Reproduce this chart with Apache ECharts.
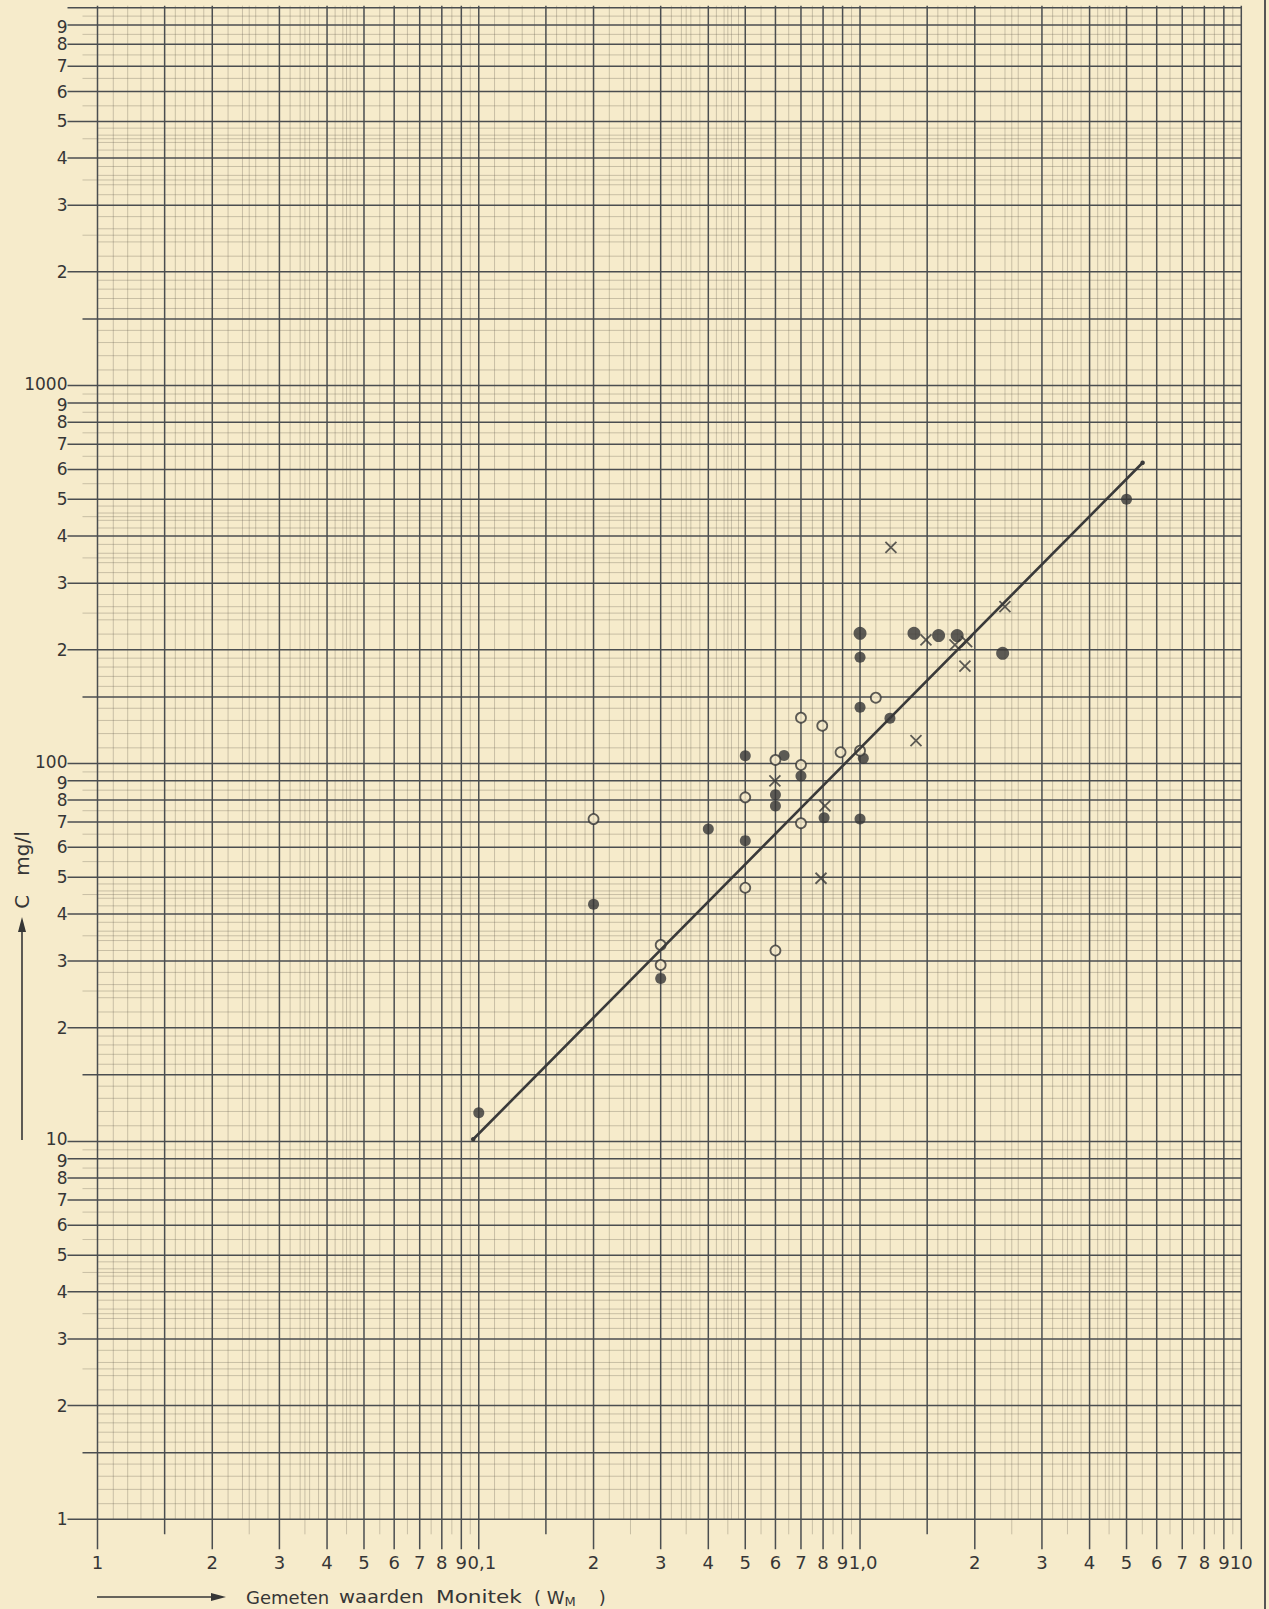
<!DOCTYPE html>
<html>
<head>
<meta charset="utf-8">
<script src="https://cdn.jsdelivr.net/npm/echarts@6/dist/echarts.min.js"></script>
<style>
  html, body { margin: 0; padding: 0; background: #F6EBCB; }
  #chart { width: 1269px; height: 1609px; }
</style>
</head>
<body>
<div id="chart"></div>
<script>
// ---------- axis ranges ----------
const X_MIN = 0.01, X_MAX = 10;
const Y_MIN = 1, Y_MAX = 10000;

// ---------- log-paper grid definition (per decade mantissas) ----------
const xDecades = [0.01, 0.1, 1];
const yDecades = [1, 10, 100, 1000];
const majorMantissas = [1, 2, 3, 4, 5, 6, 7, 8, 9];
const halfMantissas = [1.5];
const halfFaintMantissas = [2.5, 3.5, 4.5, 5.5, 6.5, 7.5, 8.5, 9.5];
const fineMantissas = [1.1, 1.2, 1.3, 1.4, 1.6, 1.7, 1.8, 1.9, 2.2, 2.4, 2.6, 2.8,
                       3.2, 3.4, 3.6, 3.8, 4.2, 4.4, 4.6, 4.8];

// ---------- tick labels ----------
const xTickValues = [0.01, 0.02, 0.03, 0.04, 0.05, 0.06, 0.07, 0.08, 0.09,
                     0.1, 0.2, 0.3, 0.4, 0.5, 0.6, 0.7, 0.8, 0.9,
                     1, 2, 3, 4, 5, 6, 7, 8, 9, 10];
const xTickLabels = ['1', '2', '3', '4', '5', '6', '7', '8', '9',
                     '0,1', '2', '3', '4', '5', '6', '7', '8', '9',
                     '1,0', '2', '3', '4', '5', '6', '7', '8', '9', '10'];
const yTickValues = [1, 2, 3, 4, 5, 6, 7, 8, 9,
                     10, 20, 30, 40, 50, 60, 70, 80, 90,
                     100, 200, 300, 400, 500, 600, 700, 800, 900,
                     1000, 2000, 3000, 4000, 5000, 6000, 7000, 8000, 9000];
const yTickLabels = ['1', '2', '3', '4', '5', '6', '7', '8', '9',
                     '10', '2', '3', '4', '5', '6', '7', '8', '9',
                     '100', '2', '3', '4', '5', '6', '7', '8', '9',
                     '1000', '2', '3', '4', '5', '6', '7', '8', '9'];

// ---------- data: [W_M, C mg/l] ----------
const filledPoints = [
  [0.1, 11.9], [0.2, 42.4], [0.3, 27.0], [0.4, 67.1], [0.5, 104.9], [0.5, 62.5],
  [0.6, 82.7], [0.6, 77.2], [0.632, 105], [0.7, 92.7], [0.805, 71.9],
  [1.0, 191], [1.0, 140.8], [1.0, 71.3], [1.02, 103.2], [1.198, 131.7], [5.0, 500]
];
const filledPointsLarge = [
  [1.0, 221], [1.385, 221], [1.607, 218], [1.798, 218], [2.366, 195.7]
];
const openPoints = [
  [0.2, 71.3], [0.3, 33.1], [0.3, 29.3], [0.5, 81.4], [0.5, 46.9], [0.6, 102.2],
  [0.6, 32.0], [0.7, 132.2], [0.7, 99.1], [0.7, 69.5], [0.796, 125.9],
  [0.889, 107.1], [1.0, 108.1], [1.10, 149.3]
];
const crossPoints = [
  [0.598, 89.9], [0.809, 77.2], [0.79, 49.7], [1.205, 373.4], [1.402, 115],
  [1.489, 212.3], [1.774, 205.9], [1.904, 210], [1.884, 181], [2.399, 260]
];
const fitLine = [[0.0967, 10.13], [5.51, 625]];

// ---------- styles ----------
const BG = '#F6EBCB';
const DARK = '#4b4e50';
const FAINT = 'rgba(95, 90, 75, 0.30)';
const INK = '#363636';
const FONT = "'DejaVu Sans', sans-serif";

// kinds: 0 fine, 1 half-faint, 2 half (1.5), 3 major
function gridItems() {
  const items = [];
  const groups = [[fineMantissas, 0], [halfFaintMantissas, 1], [halfMantissas, 2], [majorMantissas, 3]];
  groups.forEach(([ms, kind]) => {
    xDecades.forEach(d => ms.forEach(m => items.push([+(d * m).toPrecision(8), Y_MIN, kind, 0])));
    yDecades.forEach(d => ms.forEach(m => items.push([X_MIN, +(d * m).toPrecision(8), kind, 1])));
  });
  items.push([X_MAX, Y_MIN, 3, 0]);
  items.push([X_MIN, Y_MAX, 3, 1]);
  return items;
}

function labelItems() {
  const items = [];
  xTickValues.forEach((v, i) => items.push([v, Y_MIN, i, 0]));
  yTickValues.forEach((v, i) => items.push([X_MIN, v, i, 1]));
  return items;
}

const chart = echarts.init(document.getElementById('chart'), null, { renderer: 'svg' });

const option = {
  backgroundColor: BG,
  animation: false,
  grid: { left: 97.5, top: 7.7, width: 1143.8, height: 1511.6, containLabel: false },
  xAxis: {
    type: 'log', logBase: 10, min: X_MIN, max: X_MAX,
    axisLine: { show: false }, axisTick: { show: false },
    axisLabel: { show: false }, splitLine: { show: false }
  },
  yAxis: {
    type: 'log', logBase: 10, min: Y_MIN, max: Y_MAX,
    axisLine: { show: false }, axisTick: { show: false },
    axisLabel: { show: false }, splitLine: { show: false }
  },
  series: [
    {
      type: 'custom', name: 'grid', silent: true, clip: false, z: 1,
      data: gridItems(),
      encode: { x: 0, y: 1 },
      renderItem: function (params, api) {
        const kind = api.value(2), orient = api.value(3);
        const ext = [0, 15, 15, 30][kind];
        const style = kind >= 2
          ? { stroke: DARK, lineWidth: 1.5 }
          : { stroke: FAINT, lineWidth: 1 };
        if (orient === 0) {
          const v = api.value(0);
          const pb = api.coord([v, Y_MIN]);
          const pt = api.coord([v, Y_MAX]);
          return { type: 'line', shape: { x1: pb[0], y1: pt[1] - 2, x2: pb[0], y2: pb[1] + ext }, style: style };
        } else {
          const v = api.value(1);
          const pl = api.coord([X_MIN, v]);
          const pr = api.coord([X_MAX, v]);
          return { type: 'line', shape: { x1: pl[0] - ext, y1: pl[1], x2: pr[0], y2: pl[1] }, style: style };
        }
      }
    },
    {
      type: 'custom', name: 'ticklabels', silent: true, clip: false, z: 2,
      data: labelItems(),
      encode: { x: 0, y: 1 },
      renderItem: function (params, api) {
        const idx = api.value(2), orient = api.value(3);
        const p = api.coord([api.value(0), api.value(1)]);
        if (orient === 0) {
          const txt = xTickLabels[idx];
          const dx = txt.indexOf(',') >= 0 ? 3 : 0;
          return { type: 'text', x: p[0] + dx, y: p[1] + 34,
            style: { text: txt, fill: INK, font: '18px ' + FONT, align: 'center', verticalAlign: 'top' } };
        } else {
          const txt = yTickLabels[idx];
          let dy = 0;
          if (txt.length > 1) dy = -2;          // decade labels 10 / 100 / 1000
          else if (txt === '9') dy = 2;
          return { type: 'text', x: p[0] - 30, y: p[1] + dy,
            style: { text: txt, fill: INK, font: '17px ' + FONT, align: 'right', verticalAlign: 'middle' } };
        }
      }
    },
    {
      type: 'line', name: 'fit', data: fitLine, z: 5,
      symbol: 'circle', symbolSize: 4.5, showSymbol: true,
      lineStyle: { color: '#3a3a3a', width: 2.6, cap: 'round' },
      itemStyle: { color: '#3a3a3a' }
    },
    {
      type: 'scatter', name: 'filled', data: filledPoints, z: 4,
      symbol: 'circle', symbolSize: 11, itemStyle: { color: INK }
    },
    {
      type: 'scatter', name: 'filledLarge', data: filledPointsLarge, z: 4,
      symbol: 'circle', symbolSize: 13, itemStyle: { color: INK }
    },
    {
      type: 'scatter', name: 'open', data: openPoints, z: 4,
      symbol: 'circle', symbolSize: 10,
      itemStyle: { color: BG, borderColor: INK, borderWidth: 1.8 }
    },
    {
      type: 'scatter', name: 'cross', data: crossPoints, z: 4,
      symbol: 'path://M0,0L10,10M10,0L0,10', symbolSize: 11,
      itemStyle: { color: 'transparent', borderColor: INK, borderWidth: 1.8 }
    }
  ],
  graphic: [
    // right page border
    { type: 'line', shape: { x1: 1265, y1: 0, x2: 1265, y2: 1609 }, style: { stroke: '#555', lineWidth: 2 } },
    // y-axis title + arrow
    { type: 'line', shape: { x1: 22, y1: 1140, x2: 22, y2: 928 }, style: { stroke: INK, lineWidth: 1.6 } },
    { type: 'polygon', shape: { points: [[22, 917], [18, 932], [26, 932]] }, style: { fill: INK } },
    { type: 'text', x: 22, y: 870, rotation: Math.PI / 2,
      style: { text: 'C   mg/l', fill: INK, font: '20px ' + FONT, align: 'center', verticalAlign: 'middle' } },
    // x-axis title + arrow
    { type: 'line', shape: { x1: 97, y1: 1597, x2: 214, y2: 1597 }, style: { stroke: INK, lineWidth: 1.6 } },
    { type: 'polygon', shape: { points: [[226, 1597], [211, 1593], [211, 1601]] }, style: { fill: INK } },
    { type: 'text', x: 246, y: 1597, style: { text: 'Gemeten', fill: INK, font: '18px ' + FONT, verticalAlign: 'middle' } },
    { type: 'text', x: 339, y: 1597, scaleX: 1.09, style: { text: 'waarden', fill: INK, font: '18px ' + FONT, verticalAlign: 'middle' } },
    { type: 'text', x: 436, y: 1597, scaleX: 1.2, style: { text: 'Monitek', fill: INK, font: '18px ' + FONT, verticalAlign: 'middle' } },
    { type: 'text', x: 534, y: 1597, style: {
        text: '( W{s|M}    )', fill: INK, font: '18px ' + FONT, verticalAlign: 'middle',
        rich: { s: { fontSize: 13, fontFamily: FONT, fill: INK, padding: [9, 0, 0, 0] } } } }
  ]
};

chart.setOption(option);
</script>
</body>
</html>
